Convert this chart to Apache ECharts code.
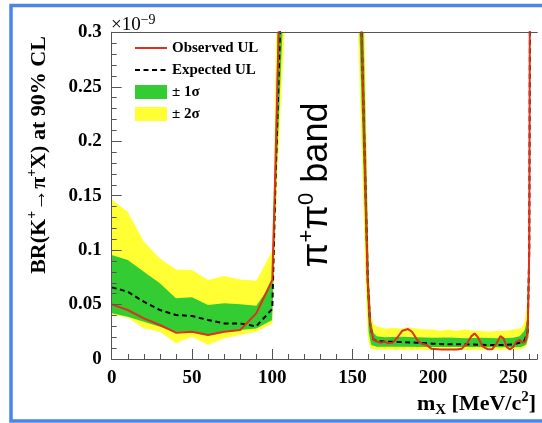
<!DOCTYPE html>
<html>
<head>
<meta charset="utf-8">
<script src="https://cdn.jsdelivr.net/npm/echarts@6/dist/echarts.min.js"></script>
<style>
html, body { margin: 0; padding: 0; background: #fff; }
#chart { width: 542px; height: 423px; }
</style>
</head>
<body>
<div id="chart"></div>
<script>
// Upper limits on BR(K+ -> pi+ X) at 90% CL versus m_X [MeV/c^2], values in units of 1e-9.
// Each curve is split in two mass windows around the pi+pi0 band; the ends rise off scale.

// Window below the pi+pi0 band
const observedLeft = [[0,0.0502],[10,0.045],[20,0.0373],[30,0.0312],[40,0.0242],[50,0.0251],[60,0.022],[70,0.0251],[80,0.0266],[90,0.0419],[100,0.0725],[101.7,0.164],[104,0.3],[106,0.55]];
const expectedLeft = [[0,0.0658],[10,0.0618],[20,0.0526],[30,0.045],[40,0.0404],[50,0.0395],[60,0.0358],[70,0.0327],[80,0.0327],[90,0.030],[100,0.046],[102,0.164],[104.8,0.3],[107,0.55]];
const sigma1UpLeft = [[0,0.0955],[10,0.0909],[20,0.0802],[30,0.0695],[40,0.0557],[50,0.0566],[60,0.0496],[70,0.0511],[80,0.0502],[90,0.049],[100,0.07],[101.5,0.164],[103.2,0.3],[108.5,1.2]];
const sigma1DownLeft = [[0,0.0419],[10,0.0389],[20,0.0343],[30,0.0297],[40,0.0251],[50,0.0251],[60,0.022],[70,0.0251],[80,0.0266],[90,0.0281],[100,0.0358],[102.5,0.164],[106.3,0.3],[109,1.2]];
const sigma2UpLeft = [[0,0.1466],[10,0.135],[20,0.108],[30,0.0924],[40,0.0823],[50,0.0817],[60,0.0725],[70,0.0762],[80,0.0731],[90,0.0719],[100,0.0995],[101,0.164],[102.3,0.3],[108,1.2]];
const sigma2DownLeft = [[0,0.0404],[10,0.0382],[20,0.0281],[30,0.0251],[40,0.0144],[50,0.0205],[60,0.0128],[70,0.019],[80,0.022],[90,0.0251],[100,0.0327],[103,0.164],[107.6,0.3],[110,1.2]];

// Window above the pi+pi0 band
const observedRight = [[152,0.55],[155.6,0.3],[159.4,0.0725],[161,0.03],[163,0.018],[165,0.016],[168,0.015],[170,0.016],[172,0.0145],[175,0.015],[178,0.02],[181,0.026],[184.5,0.0275],[187,0.025],[190,0.018],[193,0.014],[196,0.013],[199,0.0095],[205,0.0088],[210,0.0088],[215,0.0088],[218,0.0095],[221,0.014],[224,0.021],[226,0.0235],[228,0.02],[231,0.0115],[234,0.009],[237,0.009],[239.5,0.014],[242,0.021],[244,0.019],[246,0.011],[248,0.0088],[250,0.011],[252,0.016],[254,0.0175],[256,0.015],[257.5,0.016],[259,0.025],[260,0.1],[260.3,0.3],[260.6,0.6]];
const expectedRight = [[152,0.55],[155.6,0.3],[159.5,0.07],[161,0.03],[163,0.018],[165,0.0165],[170,0.016],[180,0.0155],[190,0.015],[200,0.014],[210,0.0135],[220,0.0135],[230,0.013],[240,0.0128],[245,0.013],[250,0.0135],[254,0.015],[257,0.017],[259,0.025],[260,0.1],[260.4,0.3],[261,0.6]];
const sigma1UpRight = [[150.5,1.2],[156.8,0.3],[160.2,0.07],[161.5,0.035],[163,0.024],[165,0.021],[170,0.02],[180,0.0205],[190,0.02],[200,0.0195],[210,0.0198],[220,0.019],[230,0.0195],[240,0.019],[250,0.0195],[254,0.021],[257,0.026],[258.5,0.035],[259.5,0.06],[260.4,0.3],[262,1.2]];
const sigma1DownRight = [[150,1.2],[154.3,0.3],[158.8,0.07],[160,0.025],[161.5,0.013],[165,0.0112],[180,0.0112],[200,0.011],[220,0.011],[240,0.0108],[250,0.0108],[255,0.011],[258,0.013],[259.5,0.02],[260.2,0.1],[260.6,0.3],[262.5,1.2]];
const sigma2UpRight = [[151,1.2],[157.5,0.3],[160,0.08],[161.5,0.04],[163,0.032],[165,0.03],[170,0.028],[175,0.0285],[180,0.028],[185,0.029],[190,0.028],[195,0.027],[200,0.027],[205,0.026],[210,0.027],[215,0.026],[220,0.027],[225,0.026],[230,0.026],[235,0.025],[240,0.026],[245,0.026],[250,0.027],[255,0.0285],[257,0.034],[258.5,0.05],[259.5,0.08],[260.2,0.3],[261.5,1.2]];
const sigma2DownRight = [[149,1.2],[153.4,0.3],[158.3,0.06],[159.5,0.02],[161,0.0095],[165,0.0085],[200,0.0083],[250,0.0085],[255,0.009],[258,0.011],[259.8,0.02],[260.4,0.1],[260.8,0.3],[263.5,1.2]];

const xTicksMajor = 50;
const xTicksMinor = 10;
const yTickStep = 0.05;

const SERIF = '"Liberation Serif", "DejaVu Serif", serif';
const SANS = '"Liberation Sans", Arial, sans-serif';
const YELLOW = '#ffff33';
const GREEN = '#33cc33';
const RED = '#e0301e';
const AXIS = '#555';

// Join the two mass windows with a gap so lines and fills break across the band
function joined(left, right) {
  return left.concat([[130, '-']], right);
}

function fill(name, data, color) {
  return {
    name: name, type: 'line', data: data, symbol: 'none', showSymbol: false,
    lineStyle: { width: 0, color: color }, itemStyle: { color: color },
    areaStyle: { color: color, opacity: 1 }, z: 2, silent: true, clip: true
  };
}

const chart = echarts.init(document.getElementById('chart'), null, { renderer: 'canvas' });

const option = {
  backgroundColor: '#fff',
  animation: false,
  grid: { left: 111.7, top: 32.3, right: 4.7, bottom: 64, outerBoundsMode: 'none', show: false },
  legend: {
    orient: 'vertical', left: 134, top: 40.5, padding: 0, itemWidth: 32, itemHeight: 14, itemGap: 7,
    selectedMode: false,
    textStyle: { fontFamily: SERIF, fontWeight: 'bold', fontSize: 15, color: '#000', lineHeight: 14 },
    data: [
      { name: 'Observed UL', itemStyle: { opacity: 0 } },
      { name: 'Expected UL', itemStyle: { opacity: 0 } },
      { name: '± 1σ', icon: 'rect' },
      { name: '± 2σ', icon: 'rect' }
    ]
  },
  xAxis: [
    {
      type: 'value', position: 'bottom', min: 0, max: 265, interval: xTicksMajor, z: 5,
      axisLine: { show: true, lineStyle: { color: AXIS, width: 1 } },
      axisTick: { show: true, inside: true, length: 10, lineStyle: { color: AXIS } },
      axisLabel: { show: true, margin: 10, showMaxLabel: false, fontFamily: SERIF, fontWeight: 'bold', fontSize: 19, color: '#000' },
      splitLine: { show: false }
    },
    {
      type: 'value', position: 'bottom', min: 0, max: 265, interval: xTicksMinor, z: 5,
      axisLine: { show: false },
      axisTick: { show: true, inside: true, length: 5, lineStyle: { color: AXIS } },
      axisLabel: { show: false }, splitLine: { show: false }
    },
    {
      type: 'value', position: 'top', min: 0, max: 265, z: 5,
      axisLine: { show: true, lineStyle: { color: AXIS, width: 1 } },
      axisTick: { show: false }, axisLabel: { show: false }, splitLine: { show: false }
    }
  ],
  yAxis: [
    {
      type: 'value', position: 'left', min: 0, max: 0.3, interval: yTickStep, z: 5,
      axisLine: { show: true, lineStyle: { color: AXIS, width: 1 } },
      axisTick: { show: true, inside: true, length: 10, lineStyle: { color: AXIS } },
      minorTick: { show: true, splitNumber: 5, length: 5, lineStyle: { color: AXIS } },
      axisLabel: {
        margin: 10, fontFamily: SERIF, fontWeight: 'bold', fontSize: 19, color: '#000',
        formatter: function (v) { return String(+v.toFixed(2)); }
      },
      splitLine: { show: false }
    },
    {
      type: 'value', position: 'right', min: 0, max: 0.3, z: 5,
      axisLine: { show: true, lineStyle: { color: AXIS, width: 1 } },
      axisTick: { show: false }, axisLabel: { show: false }, splitLine: { show: false }
    }
  ],
  series: [
    fill('± 2σ', joined(sigma2UpLeft, sigma2UpRight), YELLOW),
    fill('± 1σ', joined(sigma1UpLeft, sigma1UpRight), GREEN),
    fill('2σ lower', joined(sigma1DownLeft, sigma1DownRight), YELLOW),
    fill('outside', joined(sigma2DownLeft, sigma2DownRight), '#ffffff'),
    {
      name: 'Expected UL', type: 'line', data: joined(expectedLeft, expectedRight),
      symbol: 'none', showSymbol: false, z: 4, clip: true,
      lineStyle: { color: '#000', width: 2, type: [5, 3.5] }, itemStyle: { color: '#000' }
    },
    {
      name: 'Observed UL', type: 'line', data: joined(observedLeft, observedRight),
      symbol: 'none', showSymbol: false, z: 4, clip: true,
      lineStyle: { color: RED, width: 2 }, itemStyle: { color: RED }
    }
  ],
  graphic: [
    {
      type: 'rect', silent: true, z: 100,
      shape: { x: 11, y: 5.5, width: 620, height: 415.5 },
      style: { fill: 'none', stroke: '#4a86e8', lineWidth: 3.5 }
    },
    {
      type: 'text', x: 111, y: 25, silent: true, z: 100,
      style: {
        text: '×10{sup|−9}', font: '19px ' + SERIF, fill: '#000',
        align: 'left', verticalAlign: 'middle', lineHeight: 24,
        rich: { sup: { fontSize: 14, fontFamily: SERIF, fill: '#000', verticalAlign: 'top', lineHeight: 12 } }
      }
    },
    {
      type: 'text', x: 39, y: 155, rotation: Math.PI / 2, silent: true, z: 100,
      style: {
        text: 'BR(K{sup|+}→π{sup|+}X) at 90% CL', font: 'bold 22px ' + SERIF, fill: '#000',
        align: 'center', verticalAlign: 'middle', lineHeight: 28,
        rich: { sup: { fontSize: 14, fontWeight: 'bold', fontFamily: SERIF, fill: '#000', verticalAlign: 'top', lineHeight: 14 } }
      }
    },
    {
      type: 'text', x: 536, y: 404, silent: true, z: 100,
      style: {
        text: 'm{sub|X} [MeV/c{sup|2}]', font: 'bold 22px ' + SERIF, fill: '#000',
        align: 'right', verticalAlign: 'middle', lineHeight: 28,
        rich: {
          sub: { fontSize: 15, fontWeight: 'bold', fontFamily: SERIF, fill: '#000', verticalAlign: 'bottom', lineHeight: 14 },
          sup: { fontSize: 15, fontWeight: 'bold', fontFamily: SERIF, fill: '#000', verticalAlign: 'top', lineHeight: 14 }
        }
      }
    },
    {
      type: 'text', x: 317, y: 185, rotation: Math.PI / 2, silent: true, z: 100,
      style: {
        text: 'π{sup|+}π{sup|0} band', font: '36px ' + SANS, fill: '#000',
        align: 'center', verticalAlign: 'middle', lineHeight: 42,
        rich: { sup: { fontSize: 22, fontFamily: SANS, fill: '#000', verticalAlign: 'top', lineHeight: 22 } }
      }
    }
  ]
};

chart.setOption(option);
</script>
</body>
</html>
